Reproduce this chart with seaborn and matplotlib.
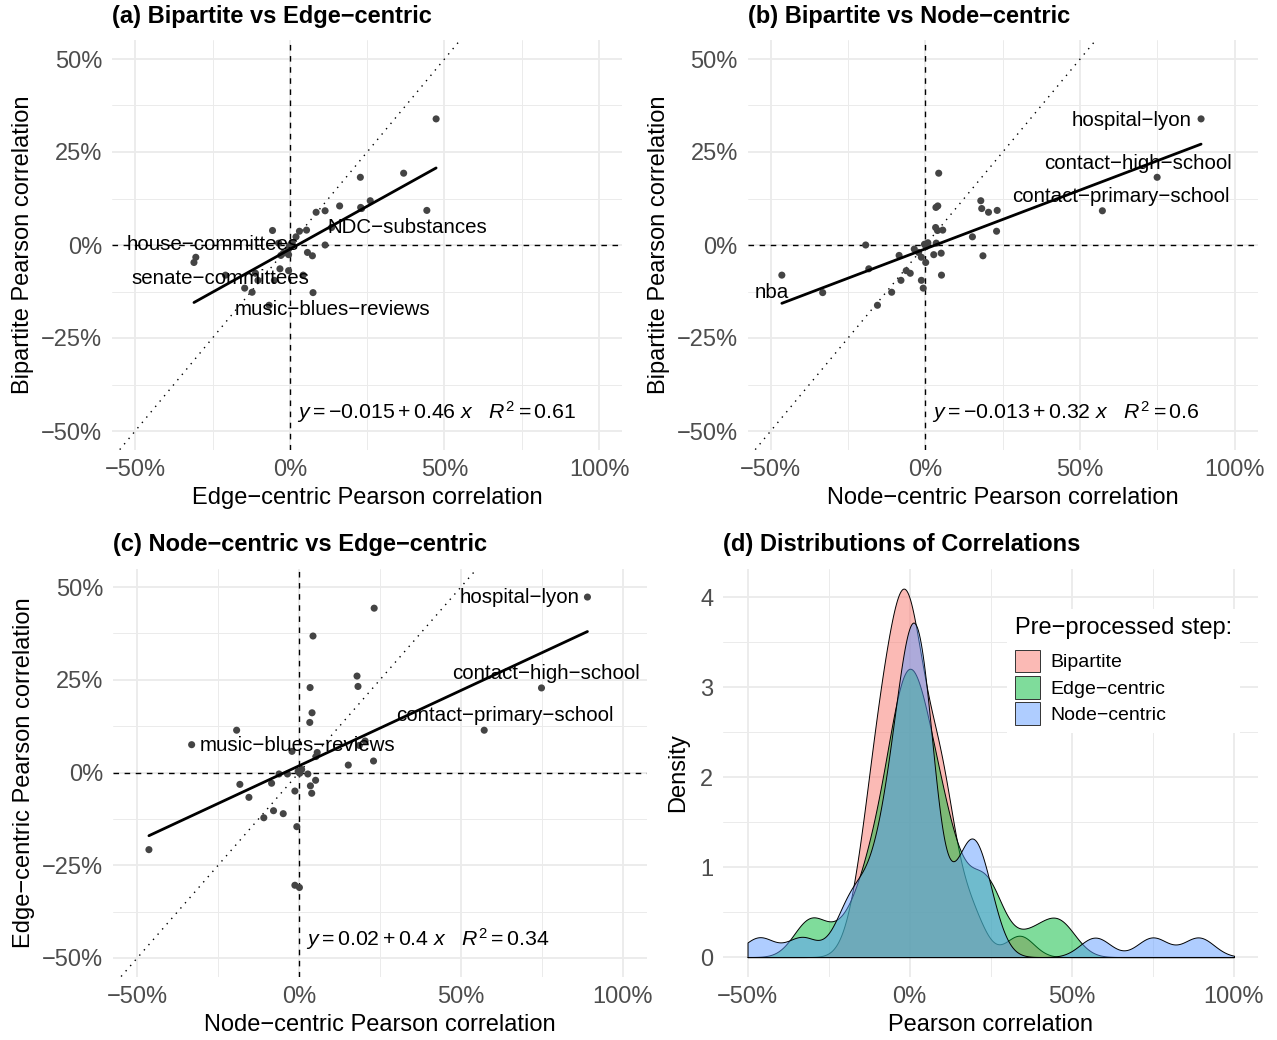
import numpy as np
import pandas as pd
import matplotlib
matplotlib.use("Agg")
import matplotlib.pyplot as plt
import seaborn as sns
from matplotlib.patches import Patch

M = "\u2212"

# ---------------- data (correlations per dataset) ----------------
datasets = [
    "hospital-lyon", "contact-high-school", "contact-primary-school", "nba",
    "music-blues-reviews", "NDC-substances", "house-committees", "senate-committees",
    "d09", "d10", "d11", "d12", "d13", "d14", "d15", "d16", "d17", "d18", "d19", "d20",
    "d21", "d22", "d23", "d24", "d25", "d26", "d27", "d28", "d29", "d30", "d31", "d32",
    "d33", "d34", "d35", "d36", "d37", "d38", "d39",
]
bipartite = [
    0.339, 0.182, 0.092, -0.081, -0.128, 0.000, -0.033, -0.047,
    0.093, 0.193, 0.119, 0.098, 0.101, 0.105, 0.047, -0.020, 0.040, 0.088, 0.022, 0.037,
    -0.069, -0.011, -0.064, -0.028, -0.026, -0.022, 0.039, -0.162, -0.095, -0.076, -0.127, -0.116,
    -0.029, -0.081, -0.095, 0.005, 0.002, -0.004, 0.006,
]
edge_centric = [
    0.473, 0.228, 0.114, -0.208, 0.075, 0.114, -0.304, -0.310,
    0.443, 0.368, 0.260, 0.232, 0.229, 0.161, 0.135, 0.057, 0.054, 0.085, 0.020, 0.031,
    -0.004, -0.004, -0.032, -0.029, -0.004, -0.021, -0.056, -0.067, -0.103, -0.111, -0.122, -0.146,
    0.073, 0.043, -0.050, -0.036, 0.003, -0.002, 0.008,
]
node_centric = [
    0.891, 0.749, 0.572, -0.464, -0.332, -0.193, -0.013, 0.001,
    0.232, 0.043, 0.179, 0.182, 0.034, 0.040, 0.033, -0.022, 0.056, 0.204, 0.152, 0.230,
    -0.062, -0.036, -0.183, -0.085, 0.027, 0.051, 0.039, -0.155, -0.079, -0.049, -0.109, -0.007,
    0.186, 0.052, -0.013, 0.035, -0.003, 0.002, 0.008,
]

steps = ["Bipartite", "Edge-centric", "Node-centric"]
step_labels = ["Bipartite", "Edge" + M + "centric", "Node" + M + "centric"]
step_colors = ["#F8766D", "#00BA38", "#619CFF"]

x_ticks = [-0.5, 0.0, 0.5, 1.0]
x_tick_labels = [M + "50%", "0%", "50%", "100%"]
x_minor = [-0.25, 0.25, 0.75]
y_ticks = [-0.5, -0.25, 0.0, 0.25, 0.5]
y_tick_labels = [M + "50%", M + "25%", "0%", "25%", "50%"]
y_minor = [-0.375, -0.125, 0.125, 0.375]
d_y_ticks = [0, 1, 2, 3, 4]
d_y_tick_labels = ["0", "1", "2", "3", "4"]
d_y_minor = [0.5, 1.5, 2.5, 3.5]

eq_a = r"$y = -0.015 + 0.46\ x\ \ \ R^2 = 0.61$"
eq_b = r"$y = -0.013 + 0.32\ x\ \ \ R^2 = 0.6$"
eq_c = r"$y = 0.02 + 0.4\ x\ \ \ R^2 = 0.34$"

df = pd.DataFrame({
    "dataset": datasets,
    "Bipartite": bipartite,
    "Edge-centric": edge_centric,
    "Node-centric": node_centric,
})

# label placements (text centres, data coords)
labels_a = [("house-committees", -0.250, 0.0), ("senate-committees", -0.223, -0.091),
            ("music-blues-reviews", 0.137, -0.173), ("NDC-substances", 0.380, 0.047)]
labels_b = [("hospital-lyon", 0.668, 0.334), ("contact-high-school", 0.686, 0.219),
            ("contact-primary-school", 0.633, 0.130), ("nba", -0.495, -0.127)]
labels_c = [("hospital-lyon", 0.682, 0.472), ("contact-high-school", 0.762, 0.267),
            ("contact-primary-school", 0.635, 0.154), ("music-blues-reviews", -0.005, 0.073)]

# ---------------- style ----------------
sns.set_style("white")
plt.rcParams["font.family"] = ["Liberation Sans", "DejaVu Sans"]
plt.rcParams["text.color"] = "black"
plt.rcParams["axes.labelcolor"] = "black"
plt.rcParams["axes.titlecolor"] = "black"
plt.rcParams["mathtext.fontset"] = "custom"
plt.rcParams["mathtext.rm"] = "Liberation Sans"
plt.rcParams["mathtext.it"] = "Liberation Sans:italic"
plt.rcParams["mathtext.bf"] = "Liberation Sans:bold"

fig = plt.figure(figsize=(12.77, 10.40), dpi=100)
W, H = 1277, 1040


def place(l, t, r, b):
    return fig.add_axes([l / W, 1 - b / H, (r - l) / W, (b - t) / H])


ax_a = place(112, 40.4, 622.3, 449.6)
ax_b = place(747.5, 40.4, 1258, 449.6)
ax_c = place(113, 568.5, 647, 976.5)
ax_d = place(723.2, 568.5, 1258.3, 976.5)

GRID = "#EBEBEB"


def style(ax, yt, ytl, ym):
    ax.set_xticks(x_ticks, x_tick_labels)
    ax.set_xticks(x_minor, minor=True)
    ax.set_yticks(yt, ytl)
    ax.set_yticks(ym, minor=True)
    ax.grid(which="major", color=GRID, lw=1.3)
    ax.grid(which="minor", color=GRID, lw=0.7)
    ax.tick_params(which="both", length=0)
    ax.tick_params(which="major", labelsize=17, labelcolor="#4D4D4D", pad=7)
    for s in ax.spines.values():
        s.set_visible(False)
    ax.set_axisbelow(True)


def scatter_panel(ax, xcol, ycol, title, xlabel, ylabel, eq, labels):
    ax.axhline(0, color="black", lw=1.0, ls=(0, (4, 4)), zorder=1)
    ax.axvline(0, color="black", lw=1.0, ls=(0, (4, 4)), zorder=1)
    ax.axline((0, 0), slope=1, color="black", lw=1.0, ls=(0, (1, 4)), zorder=1)
    sns.scatterplot(data=df, x=xcol, y=ycol, ax=ax, color="#444444", s=26,
                    edgecolor="none", zorder=3, legend=False)
    sns.regplot(data=df, x=xcol, y=ycol, ax=ax, scatter=False, ci=None,
                truncate=True, color="black", line_kws=dict(lw=2.0, zorder=4))
    for name, tx, ty in labels:
        ax.text(tx, ty, name.replace("-", M), fontsize=14.8, ha="center", va="center",
                color="black", zorder=5)
    ax.text(0.022, -0.45, eq, fontsize=15.3, ha="left", va="center", zorder=5)
    ax.set_xlim(-0.575, 1.075)
    ax.set_ylim(-0.55, 0.55)
    style(ax, y_ticks, y_tick_labels, y_minor)
    ax.set_title(title, loc="left", fontsize=17, fontweight="bold", pad=12.5)
    ax.set_xlabel(xlabel, fontsize=17, labelpad=4)
    ax.set_ylabel(ylabel, fontsize=17, labelpad=5)


scatter_panel(ax_a, "Edge-centric", "Bipartite", "(a) Bipartite vs Edge" + M + "centric",
              "Edge" + M + "centric Pearson correlation", "Bipartite Pearson correlation",
              eq_a, labels_a)
scatter_panel(ax_b, "Node-centric", "Bipartite", "(b) Bipartite vs Node" + M + "centric",
              "Node" + M + "centric Pearson correlation", "Bipartite Pearson correlation",
              eq_b, labels_b)
scatter_panel(ax_c, "Node-centric", "Edge-centric", "(c) Node" + M + "centric vs Edge" + M + "centric",
              "Node" + M + "centric Pearson correlation", "Edge" + M + "centric Pearson correlation",
              eq_c, labels_c)

# ---------------- panel d: densities ----------------
for step, col in zip(steps, step_colors):
    v = np.asarray(df[step], dtype=float)
    sd = v.std(ddof=1)
    iqr = np.subtract(*np.percentile(v, [75, 25]))
    factor = 0.9 * min(sd, iqr / 1.34) / sd * len(v) ** (-0.2)  # bw.nrd0
    sns.kdeplot(x=v, ax=ax_d, fill=True, color=col, alpha=0.5, edgecolor="black",
                linewidth=0.7, bw_method=factor, clip=(-0.5, 1.0), cut=20, gridsize=512)

ax_d.set_xlim(-0.575, 1.075)
ax_d.set_ylim(-0.216, 4.32)
style(ax_d, d_y_ticks, d_y_tick_labels, d_y_minor)
ax_d.set_title("(d) Distributions of Correlations", loc="left", fontsize=17,
               fontweight="bold", pad=12.5)
ax_d.set_xlabel("Pearson correlation", fontsize=17, labelpad=4)
ax_d.set_ylabel("Density", fontsize=17, labelpad=8)

handles = [Patch(facecolor=matplotlib.colors.to_rgba(c, 0.5), edgecolor="#333333", lw=0.7)
           for c in step_colors]
leg = ax_d.legend(handles, step_labels, title="Pre" + M + "processed step:",
                  loc="upper left", bbox_to_anchor=(0.513, 0.925), fontsize=14,
                  title_fontsize=17, frameon=True, facecolor="white", edgecolor="none",
                  framealpha=1, fancybox=False, handlelength=1.25, handleheight=1.4,
                  labelspacing=0.2, handletextpad=0.55, borderpad=0.4, alignment="left")
leg._legend_box.sep = 8

fig.savefig("out.png", dpi=100, facecolor="white")
